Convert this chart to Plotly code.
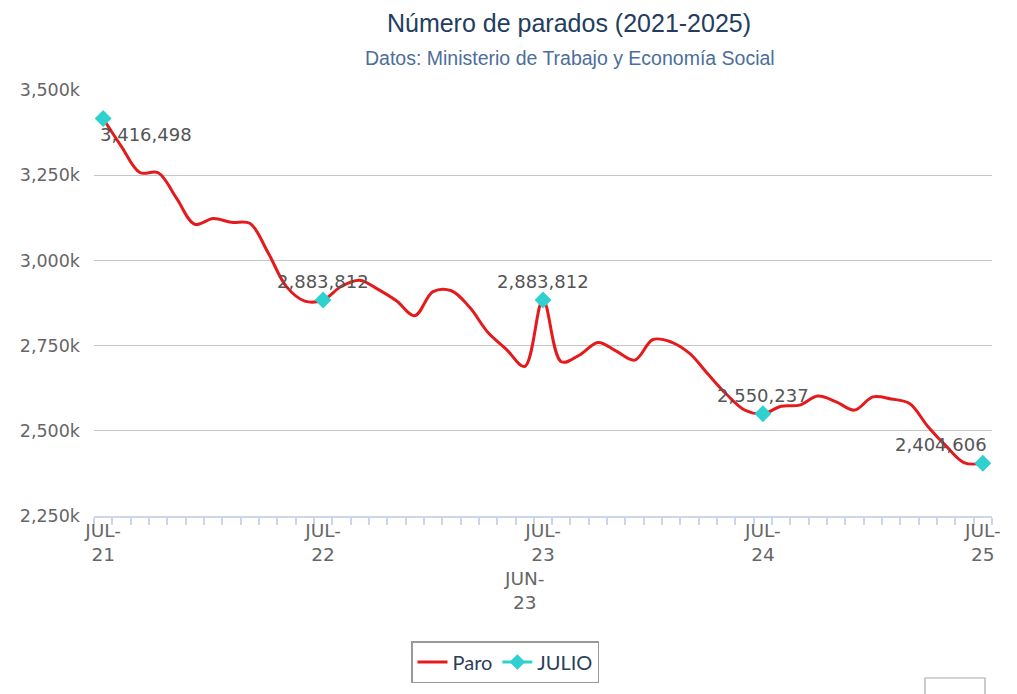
import plotly.graph_objects as go

# ---- data ----
months = ["JUL-21", "AGO-21", "SEP-21", "OCT-21", "NOV-21", "DIC-21",
          "ENE-22", "FEB-22", "MAR-22", "ABR-22", "MAY-22", "JUN-22",
          "JUL-22", "AGO-22", "SEP-22", "OCT-22", "NOV-22", "DIC-22",
          "ENE-23", "FEB-23", "MAR-23", "ABR-23", "MAY-23", "JUN-23",
          "JUL-23", "AGO-23", "SEP-23", "OCT-23", "NOV-23", "DIC-23",
          "ENE-24", "FEB-24", "MAR-24", "ABR-24", "MAY-24", "JUN-24",
          "JUL-24", "AGO-24", "SEP-24", "OCT-24", "NOV-24", "DIC-24",
          "ENE-25", "FEB-25", "MAR-25", "ABR-25", "MAY-25", "JUN-25",
          "JUL-25"]

paro = [3416498, 3333915, 3257802, 3257068, 3182687, 3105905,
        3123078, 3111684, 3108763, 3022503, 2922991, 2880582,
        2883812, 2924240, 2941919, 2914892, 2881380, 2837653,
        2908397, 2911015, 2862260, 2788370, 2739110, 2688842,
        2883812, 2702700, 2722468, 2759404, 2733625, 2707456,
        2767860, 2760408, 2727003, 2666500, 2607850, 2561067,
        2550237, 2572121, 2575285, 2601901, 2585121, 2560718,
        2599443, 2593449, 2580138, 2512718, 2454883, 2405963,
        2404606]

julio_months = ["JUL-21", "JUL-22", "JUL-23", "JUL-24", "JUL-25"]
julio_values = [3416498, 2883812, 2883812, 2550237, 2404606]

shown_tick_months = ["JUL-21", "JUL-22", "JUN-23", "JUL-23", "JUL-24", "JUL-25"]
staggered_tick_months = ["JUN-23"]

y_tick_values = [2250000, 2500000, 2750000, 3000000, 3250000, 3500000]
y_tick_labels = ["2,250k", "2,500k", "2,750k", "3,000k", "3,250k", "3,500k"]

title_text = "Número de parados (2021-2025)"
subtitle_text = "Datos: Ministerio de Trabajo y Economía Social"

# ---- figure ----
idx = {m: i for i, m in enumerate(months)}
x_all = list(range(len(months)))
x_julio = [idx[m] for m in julio_months]

RED = "#e41a1c"
CYAN = "#30d0d0"
LABEL_FONT = "DejaVu Sans"

# page body has an 8px margin, so the figure is sized/placed to compensate
W, H = 1009, 686

fig = go.Figure()
fig.add_trace(go.Scatter(
    x=x_all, y=paro, mode="lines", name="Paro",
    line=dict(color=RED, width=3, shape="spline", smoothing=1.0),
    hoverinfo="skip",
))
fig.add_trace(go.Scatter(
    x=x_julio, y=julio_values, mode="markers", name="JULIO",
    marker=dict(symbol="diamond", color=CYAN, size=13, line=dict(width=0)),
    showlegend=False,
))
# legend entry for JULIO (line + diamond)
fig.add_trace(go.Scatter(
    x=[None], y=[None], mode="lines+markers", name="JULIO",
    line=dict(color=CYAN, width=3),
    marker=dict(symbol="diamond", color=CYAN, size=12),
))

# data labels
n = len(x_julio)
for k, (xv, yv) in enumerate(zip(x_julio, julio_values)):
    txt = f"{yv:,}"
    if k == 0:
        kw = dict(xanchor="left", yanchor="top", xshift=-5, yshift=-4)
    elif k == n - 1:
        kw = dict(xanchor="right", yanchor="bottom", xshift=6, yshift=6)
    else:
        kw = dict(xanchor="center", yanchor="bottom", xshift=0, yshift=6)
    fig.add_annotation(x=xv, y=yv, xref="x", yref="y", text=txt,
                       showarrow=False,
                       font=dict(family=LABEL_FONT, size=18, color="#555555"),
                       **kw)

# subtitle
fig.add_annotation(x=0.530, y=1.075, xref="paper", yref="paper",
                   text=subtitle_text, showarrow=False,
                   xanchor="center", yanchor="middle",
                   font=dict(family="Liberation Sans, Arial", size=19.5, color="#4c6e9b"))

tickvals = [idx[m] for m in shown_tick_months]
ticktext = []
for m in shown_tick_months:
    lab = m.replace("-", "-<br>")
    if m in staggered_tick_months:
        lab = " <br> <br>" + lab
    ticktext.append(lab)

fig.update_layout(
    width=W, height=H,
    margin=dict(l=86, r=25, t=82, b=178, autoexpand=False),
    paper_bgcolor="white", plot_bgcolor="white",
    title=dict(text=title_text, x=561 / W, xanchor="center",
               y=1 - 15 / H, yanchor="middle", yref="container",
               font=dict(family="Liberation Sans, Arial", size=25, color="#233d5e")),
    showlegend=True,
    legend=dict(orientation="h", xref="container", yref="container",
                x=497 / W, xanchor="center", y=1 - 654 / H, yanchor="middle",
                bordercolor="#999999", borderwidth=1.5,
                font=dict(family="Lato", size=20, color="#2c3e58"),
                itemwidth=30),
    xaxis=dict(
        range=[-0.5, len(months) - 0.5],
        tickmode="array", tickvals=tickvals, ticktext=ticktext,
        tickangle=0, automargin=False,
        ticks="", showgrid=False, zeroline=False,
        showline=True, linecolor="#ccd6eb", linewidth=2,
        tickfont=dict(family=LABEL_FONT, size=18.5, color="#666666"),
        ticklabelstandoff=-3,
        minor=dict(tickmode="linear", tick0=-0.5, dtick=1, ticks="outside",
                   ticklen=7, tickwidth=2, tickcolor="#ccd6eb", showgrid=False),
        fixedrange=True,
    ),
    yaxis=dict(
        range=[2250000, 3500000],
        tickmode="array", tickvals=y_tick_values, ticktext=y_tick_labels,
        automargin=False,
        showgrid=True, gridcolor="#c6c6c6", gridwidth=1.3,
        zeroline=False, showline=False, ticks="",
        tickfont=dict(family=LABEL_FONT, size=17.5, color="#666666"),
        ticklabelstandoff=13,
        fixedrange=True,
    ),
)

# partially visible button at bottom right
fig.add_shape(type="rect", xref="paper", yref="paper",
              x0=(925 - 94) / 898, x1=(985 - 94) / 898,
              y0=(516 - 705) / 426, y1=(516 - 678) / 426,
              line=dict(color="#aaaaaa", width=1.2), fillcolor="white", layer="above")

fig.write_html("out.html")
